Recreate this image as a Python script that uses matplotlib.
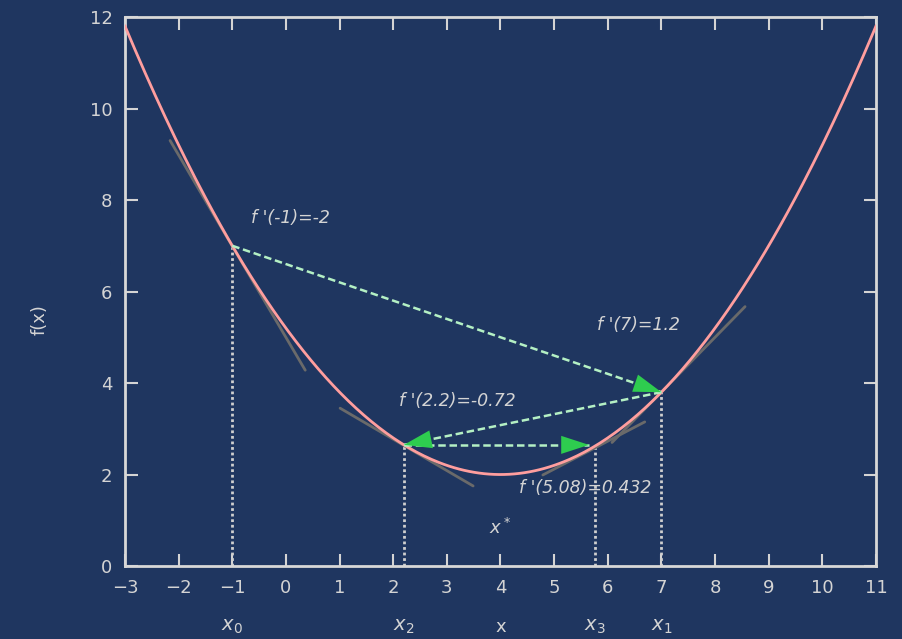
import matplotlib
matplotlib.use('Agg')
from matplotlib import pyplot as plt
import numpy as np

# parabola f(x) = curv*(x - x_min)^2 + y_min
x_min, y_min, curv = 4.0, 2.0, 0.2

# iterate points x0, x1, x2, x3
pt_names = [r'$x_0$', r'$x_1$', r'$x_2$', r'$x_3$']
pt_x = [-1.0, 7.0, 2.2, 5.76]
pt_y = [7.0, 3.8, 2.648, 2.62]

# tangent line segments (x start, y start, x end, y end)
tan_x0 = [-2.16, 6.08, 1.01, 4.79]
tan_y0 = [9.30, 2.70, 3.45, 1.99]
tan_x1 = [0.36, 8.56, 3.49, 6.69]
tan_y1 = [4.28, 5.67, 1.75, 3.15]

# arrows between the points, last one stops a bit short
arr_start = [(-1.0, 7.0), (7.0, 3.8), (2.2, 2.648)]
arr_end = [(7.0, 3.8), (2.2, 2.648), (5.65, 2.648)]

# derivative labels
lab_text = ["f '(-1)=-2", "f '(7)=1.2", "f '(2.2)=-0.72", "f '(5.08)=0.432"]
lab_x = [-0.65, 5.8, 2.1, 4.35]
lab_y = [7.5, 5.15, 3.5, 1.6]

xticks = list(range(-3, 12))
yticks = list(range(0, 13, 2))

bg = '#1f3660'
fg = '#d4d4d4'

fig = plt.figure(figsize=(9.02, 6.39), dpi=100, facecolor=bg)
ax = fig.add_axes([0.1386, 0.1142, 0.8325, 0.8592], facecolor=bg)

# vertical dotted lines down to the x axis
for x, y in zip(pt_x, pt_y):
    ax.plot([x, x], [0, y], color='#cfcfcf', lw=2, ls=(0, (1, 1)), zorder=2)

# tangents
for a, b, c, d in zip(tan_x0, tan_y0, tan_x1, tan_y1):
    ax.plot([a, c], [b, d], color='#6a6a6a', lw=2, zorder=3,
            solid_capstyle='round')

# the function
xs = np.linspace(-3, 11, 300)
ax.plot(xs, curv * (xs - x_min) ** 2 + y_min, color='#ff9e9e', lw=2, zorder=4)

# arrows: dashed light green shaft + solid green head
for s, e in zip(arr_start, arr_end):
    ax.plot([s[0], e[0]], [s[1], e[1]], color='#b4f0c4', lw=1.8,
            ls=(0, (3, 1.5)), zorder=5)
    back = (e[0] - 0.15 * (e[0] - s[0]), e[1] - 0.15 * (e[1] - s[1]))
    ax.annotate('', xy=e, xytext=back,
                arrowprops=dict(arrowstyle='-|>,head_length=2.0,head_width=0.65',
                                color='#2ecc4f', lw=0, shrinkA=0, shrinkB=0),
                zorder=6)

for t, x, y in zip(lab_text, lab_x, lab_y):
    ax.text(x, y, t, color=fg, fontsize=12.5, style='italic', zorder=7)
ax.text(4.0, 0.7, r'$x^*$', color=fg, fontsize=13, ha='center', zorder=7)

ax.set_xlim(-3, 11)
ax.set_ylim(0, 12)
ax.set_xticks(xticks)
ax.set_yticks(yticks)
ax.tick_params(direction='in', length=9, width=1.5, color=fg, labelcolor=fg,
               labelsize=13, top=True, right=True, pad=9)
for sp in ax.spines.values():
    sp.set_color('#d8d8d8')
    sp.set_linewidth(2)

# point names under the axis
for n, x in zip(pt_names, pt_x):
    ax.text(x, -1.33, n, color=fg, fontsize=14, ha='center', va='center')
ax.text(4.0, -1.33, 'x', color=fg, fontsize=13, ha='center', va='center')

fig.text(40 / 902, 0.5, 'f(x)', color=fg, fontsize=13, rotation=90,
         ha='center', va='center')

fig.savefig('out.png', dpi=100, facecolor=bg)
